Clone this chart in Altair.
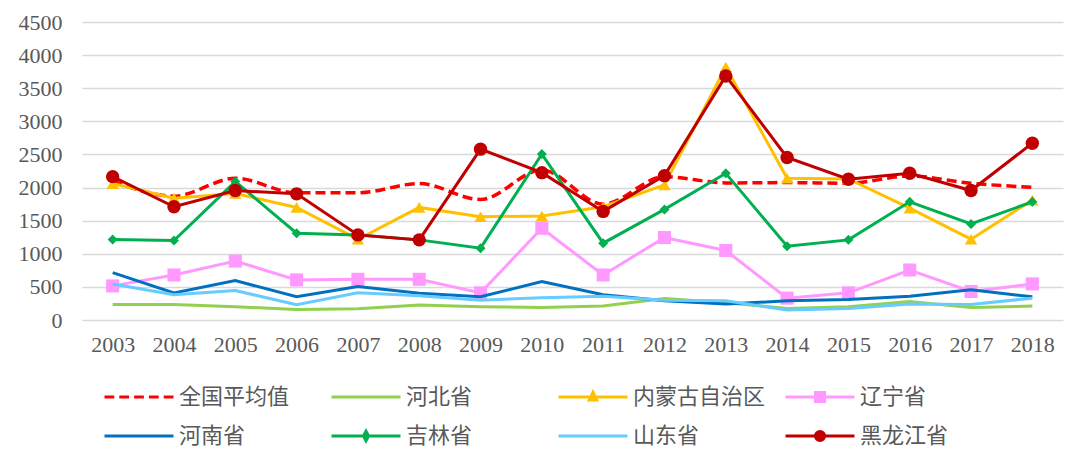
import altair as alt
import pandas as pd

years = [str(y) for y in range(2003, 2019)]
series_names = ["全国平均值", "河北省", "内蒙古自治区", "辽宁省", "河南省", "吉林省", "山东省", "黑龙江省"]

national = [2100, 1870, 2140, 1920, 1920, 2060, 1820, 2265, 1750, 2165, 2070, 2075, 2065, 2175, 2065, 2005]
hebei = [235, 235, 200, 160, 170, 225, 200, 190, 210, 325, 260, 175, 200, 280, 190, 210]
neimenggu = [2060, 1840, 1910, 1700, 1220, 1700, 1560, 1570, 1710, 2040, 3820, 2140, 2130, 1690, 1220, 1810]
liaoning = [515, 680, 890, 605, 615, 615, 410, 1385, 680, 1245, 1050, 330, 410, 755, 430, 545]
henan = [715, 410, 595, 350, 505, 405, 350, 580, 380, 290, 240, 290, 310, 360, 455, 350]
jilin = [1215, 1200, 2090, 1310, 1285, 1210, 1085, 2505, 1160, 1670, 2215, 1115, 1210, 1785, 1450, 1785]
shandong = [545, 380, 445, 230, 410, 365, 300, 335, 360, 300, 290, 150, 175, 240, 235, 330]
heilongjiang = [2165, 1710, 1955, 1905, 1285, 1210, 2580, 2225, 1640, 2180, 3685, 2455, 2125, 2215, 1955, 2670]

all_values = [national, hebei, neimenggu, liaoning, henan, jilin, shandong, heilongjiang]
colors = ["#FF0000", "#92D050", "#FFC000", "#FF99FF", "#0070C0", "#00B050", "#66CCFF", "#C00000"]
markers = [None, None, "triangle-up", "square", None, "diamond", None, "circle"]
marker_sizes = [0, 0, 150, 170, 0, 100, 0, 180]

# legend symbol paths (line with optional marker)
legend_paths = [
    "M-1,0H-0.15M0.2875,0H1.1375M1.575,0H2.425M2.8625,0H3.7125M4.15,0H5",
    "M-1,0H5",
    "M-1,0H5M2,-0.42L2.32,0.25L1.68,0.25Z",
    "M-1,0H5M1.6,-0.4H2.4V0.4H1.6Z",
    "M-1,0H5",
    "M-1,0H5M2,-0.42L2.22,0L2,0.42L1.78,0Z",
    "M-1,0H5",
    "M-1,0H5M2.4,0A0.4,0.4,0,1,1,1.6,0A0.4,0.4,0,1,1,2.4,0Z",
]

rows = []
for name, vals in zip(series_names, all_values):
    for yr, v in zip(years, vals):
        rows.append({"series": name, "year": yr, "value": v})
df = pd.DataFrame(rows)

label_color = "#595959"
x_enc = alt.X(
    "year:O",
    scale=alt.Scale(type="point", padding=0.5),
    axis=alt.Axis(title=None, labelAngle=0, domain=False, ticks=False, grid=False,
                  labelPadding=14, labelFont="Liberation Serif", labelFontSize=22,
                  labelColor=label_color),
)
y_enc = alt.Y(
    "value:Q",
    scale=alt.Scale(domain=[0, 4500], nice=False),
    axis=alt.Axis(title=None, values=list(range(0, 4501, 500)), format="d", domain=False, ticks=False,
                  grid=True, gridColor="#D9D9D9", gridWidth=1.5, labelPadding=20,
                  labelFont="Liberation Serif", labelFontSize=22, labelColor=label_color),
)

layers = []
for name, col, mk, ms in zip(series_names, colors, markers, marker_sizes):
    sub = alt.Chart(df).transform_filter(alt.datum.series == name)
    if name == "全国平均值":
        line = sub.mark_line(color=col, strokeWidth=3.5, strokeDash=[10, 5], interpolate="monotone")
    else:
        line = sub.mark_line(color=col, strokeWidth=3)
    layers.append(line.encode(x=x_enc, y=y_enc))
    if mk:
        pts = sub.mark_point(filled=True, shape=mk, size=ms, color=col, opacity=1)
        layers.append(pts.encode(x=x_enc, y=y_enc))

legend = alt.Legend(
    orient="none", legendX=21, legendY=362, columns=4, direction="horizontal",
    gridAlign="all", title=None,
    symbolSize=529, symbolStrokeWidth=3, symbolOpacity=1,
    labelFont="Noto Sans CJK SC", labelFontSize=22, labelColor=label_color,
    labelOffset=50, columnPadding=13, rowPadding=15, padding=0, labelLimit=300,
)
legend_df = pd.DataFrame({"series": series_names})
legend_layer = alt.Chart(legend_df).transform_filter("false").mark_point(filled=True).encode(
    fill=alt.Fill("series:N", scale=alt.Scale(domain=series_names, range=colors), legend=legend),
    stroke=alt.Stroke("series:N", scale=alt.Scale(domain=series_names, range=colors), legend=legend),
    shape=alt.Shape("series:N", scale=alt.Scale(domain=series_names, range=legend_paths), legend=legend),
)
layers.append(legend_layer)

chart = alt.layer(*layers).properties(
    width=981, height=298,
    padding={"left": 82, "top": 22, "right": 17, "bottom": 138},
    autosize=alt.AutoSizeParams(type="none"),
    background="white",
).configure_view(stroke=None)

chart.save("out.html", embed_options={"renderer": "svg", "actions": False})
